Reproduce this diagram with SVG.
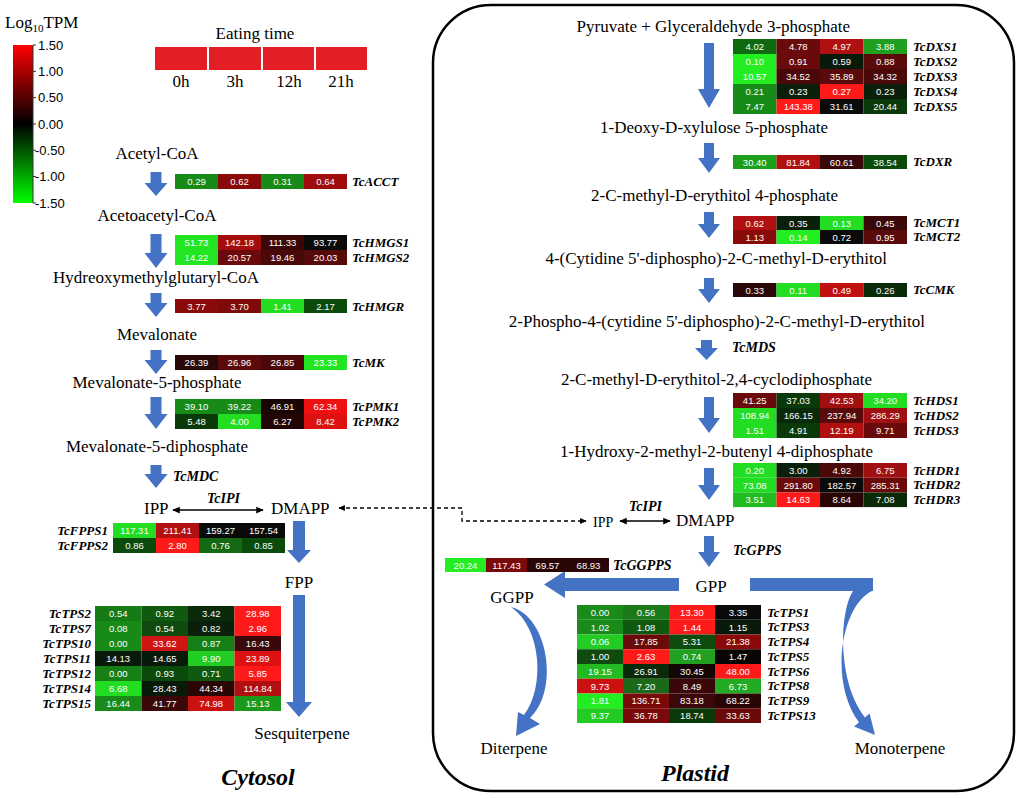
<svg xmlns="http://www.w3.org/2000/svg" width="1021" height="799" viewBox="0 0 1021 799">
<defs>
<linearGradient id="cb" x1="0" y1="0" x2="0" y2="1">
<stop offset="0" stop-color="#ff0000"/><stop offset="0.5" stop-color="#000000"/><stop offset="1" stop-color="#00ff00"/>
</linearGradient>
<marker id="ah" viewBox="0 0 10 10" refX="9" refY="5" markerWidth="5" markerHeight="5" orient="auto-start-reverse"><path d="M0,0.5 L10,5 L0,9.5 z" fill="#000"/></marker>
</defs>
<style>
.m{font-family:"Liberation Serif","Times New Roman",serif;font-size:17px;fill:#000}
.ml{font-family:"Liberation Serif","Times New Roman",serif;font-size:17px;fill:#000;text-anchor:middle}
.mr{font-family:"Liberation Serif","Times New Roman",serif;font-size:17px;fill:#000;text-anchor:end}
.g{font-family:"Liberation Serif","Times New Roman",serif;font-size:13px;font-weight:bold;font-style:italic;fill:#000}
.gr{font-family:"Liberation Serif","Times New Roman",serif;font-size:13px;font-weight:bold;font-style:italic;fill:#000;text-anchor:end}
.e{font-family:"Liberation Serif","Times New Roman",serif;font-size:14px;font-weight:bold;font-style:italic;fill:#000}
.big{font-family:"Liberation Serif","Times New Roman",serif;font-size:24px;font-weight:bold;font-style:italic;fill:#000;text-anchor:middle}
.c{font-family:"Liberation Sans",Arial,sans-serif;font-size:9.5px;fill:#fff;text-anchor:middle}
.t{font-family:"Liberation Sans",Arial,sans-serif;font-size:13px;fill:#000}
.ba{fill:#4472c4}
.ln{stroke:#000;stroke-width:1.5;fill:none}
</style>
<rect width="1021" height="799" fill="#fff"/>

<g id="legend">
<text class="m" x="5" y="28">Log<tspan font-size="11" dy="4">10</tspan><tspan dy="-4">TPM</tspan></text>
<rect x="13" y="45" width="20" height="158" fill="url(#cb)"/>
<path d="M33,45V203M33,45h3M33,71.3h3M33,97.6h3M33,124h3M33,150.2h3M33,176.5h3M33,203h3" stroke="#333" stroke-width="1" fill="none"/>
<text class="t" x="38" y="50">1.50</text>
<text class="t" x="38" y="76">1.00</text>
<text class="t" x="38" y="102">0.50</text>
<text class="t" x="38" y="129">0.00</text>
<text class="t" x="35" y="155">-0.50</text>
<text class="t" x="35" y="181">-1.00</text>
<text class="t" x="35" y="208">-1.50</text>
</g>

<g id="eating-time">
<text class="ml" x="255" y="39">Eating time</text>
<rect x="155" y="47" width="52" height="23" fill="#e31e24"/>
<rect x="209" y="47" width="52" height="23" fill="#e31e24"/>
<rect x="263" y="47" width="51" height="23" fill="#e31e24"/>
<rect x="316" y="47" width="51" height="23" fill="#e31e24"/>
<text class="ml" x="181" y="87">0h</text>
<text class="ml" x="235" y="87">3h</text>
<text class="ml" x="289" y="87">12h</text>
<text class="ml" x="341" y="87">21h</text>
</g>

<g id="plastid-box"><rect x="433" y="5" width="581" height="786" rx="58" fill="none" stroke="#000" stroke-width="2.5"/></g>

<g id="connectors">
<path class="ba" d="M150.5,172H161.5V183H167.5L156,196L144.5,183H150.5Z"/>
<path class="ba" d="M150.5,234H161.5V253H167.5L156,268L144.5,253H150.5Z"/>
<path class="ba" d="M150.5,293H161.5V303H167.5L156,317L144.5,303H150.5Z"/>
<path class="ba" d="M150.5,350H161.5V360H167.5L156,374L144.5,360H150.5Z"/>
<path class="ba" d="M150.5,397H161.5V414H167.5L156,429L144.5,414H150.5Z"/>
<path class="ba" d="M150.5,465H161.5V474H167.5L156,488L144.5,474H150.5Z"/>
<path class="ba" d="M293,521H305V550H311L299,563L287,550H293Z"/>
<path class="ba" d="M293,595H305V702H312L299,717L286,702H293Z"/>
<path class="ba" d="M704,43H714V89H720L709,108L698,89H704Z"/>
<path class="ba" d="M704,143H714V158H720L709,173L698,158H704Z"/>
<path class="ba" d="M704,212H714V224H720L709,238L698,224H704Z"/>
<path class="ba" d="M704,278H714V289H720L709,303L698,289H704Z"/>
<path class="ba" d="M701,340H712V348H718L706.5,360L695,348H701Z"/>
<path class="ba" d="M704,397H714V418H720L709,433L698,418H704Z"/>
<path class="ba" d="M704,468H714V485H720L709,500L698,485H704Z"/>
<path class="ba" d="M704,536H714V552H720L709,567L698,552H704Z"/>
<path class="ba" d="M679,578V591H565V598L544,584.5L565,571V578Z"/>
<path class="ba" d="M750,578H873V591H872C842,605 828,680 859,722.6L854,726.5L875,735L869.6,713.5L865,717.4C836,680 840,610 853,591H750Z"/>
<path class="ba" d="M511,607C548,616 560,690 530,718L540,724L516,736L518,712L524,715C545,688 542,628 511,607Z"/>
<line class="ln" x1="173" y1="510" x2="263" y2="510" marker-start="url(#ah)" marker-end="url(#ah)"/>
<line class="ln" x1="620" y1="521" x2="670" y2="521" marker-start="url(#ah)" marker-end="url(#ah)"/>
<path d="M339,508H462V521H586" fill="none" stroke="#000" stroke-width="1.3" stroke-dasharray="4 3" marker-start="url(#ah)" marker-end="url(#ah)"/>
</g>

<g id="metabolites-cytosol">
<text class="ml" x="157" y="159">Acetyl-CoA</text>
<text class="ml" x="157" y="221">Acetoacetyl-CoA</text>
<text class="ml" x="156" y="283">Hydreoxymethylglutaryl-CoA</text>
<text class="ml" x="157" y="340">Mevalonate</text>
<text class="ml" x="157" y="388">Mevalonate-5-phosphate</text>
<text class="ml" x="157" y="452">Mevalonate-5-diphosphate</text>
<text class="e" x="173" y="481">TcMDC</text>
<text class="m" x="144" y="514">IPP</text>
<text class="e" x="207" y="503">TcIPI</text>
<text class="m" x="271" y="514">DMAPP</text>
<text class="ml" x="299" y="588">FPP</text>
<text class="ml" x="302" y="739">Sesquiterpene</text>
<text class="big" x="258" y="785">Cytosol</text>
</g>

<g id="metabolites-plastid">
<text class="mr" x="850" y="32">Pyruvate + Glyceraldehyde 3-phosphate</text>
<text class="mr" x="828" y="133">1-Deoxy-D-xylulose 5-phosphate</text>
<text class="mr" x="838" y="201">2-C-methyl-D-erythitol 4-phosphate</text>
<text class="mr" x="887" y="264">4-(Cytidine 5'-diphospho)-2-C-methyl-D-erythitol</text>
<text class="mr" x="925" y="327">2-Phospho-4-(cytidine 5'-diphospho)-2-C-methyl-D-erythitol</text>
<text class="e" x="732" y="352">TcMDS</text>
<text class="mr" x="872" y="385">2-C-methyl-D-erythitol-2,4-cyclodiphosphate</text>
<text class="mr" x="873" y="457">1-Hydroxy-2-methyl-2-butenyl 4-diphosphate</text>
<text x="593" y="527" font-family="Liberation Serif,serif" font-size="14">IPP</text>
<text class="e" x="629" y="511">TcIPI</text>
<text class="m" x="676" y="526">DMAPP</text>
<text class="e" x="733" y="555">TcGPPS</text>
<text class="ml" x="711" y="592" font-size="18">GPP</text>
<text class="ml" x="512" y="603">GGPP</text>
<text class="ml" x="514" y="754">Diterpene</text>
<text class="ml" x="900" y="754">Monoterpene</text>
<text class="big" x="695" y="781">Plastid</text>
</g>

<g id="TcACCT" transform="translate(175,174)">
<rect x="0" width="43" height="15" fill="#178a17"/><rect x="43" width="43" height="15" fill="#8a0a0a"/><rect x="86" width="43" height="15" fill="#178a17"/><rect x="129" width="43" height="15" fill="#a00c0c"/>
<text class="c" x="21.5" y="11">0.29</text><text class="c" x="64.5" y="11">0.62</text><text class="c" x="107.5" y="11">0.31</text><text class="c" x="150.5" y="11">0.64</text>
<text class="g" x="177" y="12">TcACCT</text>
</g>

<g id="TcHMGS" transform="translate(175,235)">
<rect x="0" width="43" height="15" fill="#22e622"/><rect x="43" width="43" height="15" fill="#a50c0c"/><rect x="86" width="43" height="15" fill="#3a0606"/><rect x="129" width="43" height="15" fill="#0a0a0a"/>
<rect x="0" y="15" width="43" height="15" fill="#22e622"/><rect x="43" y="15" width="43" height="15" fill="#6a0a0a"/><rect x="86" y="15" width="43" height="15" fill="#4a0808"/><rect x="129" y="15" width="43" height="15" fill="#580a0a"/>
<text class="c" x="21.5" y="11">51.73</text><text class="c" x="64.5" y="11">142.18</text><text class="c" x="107.5" y="11">111.33</text><text class="c" x="150.5" y="11">93.77</text>
<text class="c" x="21.5" y="26">14.22</text><text class="c" x="64.5" y="26">20.57</text><text class="c" x="107.5" y="26">19.46</text><text class="c" x="150.5" y="26">20.03</text>
<text class="g" x="177" y="12">TcHMGS1</text><text class="g" x="177" y="27">TcHMGS2</text>
</g>

<g id="TcHMGR" transform="translate(175,299)">
<rect x="0" width="43" height="14" fill="#8a0a0a"/><rect x="43" width="43" height="14" fill="#7f0a0a"/><rect x="86" width="43" height="14" fill="#22dd22"/><rect x="129" width="43" height="14" fill="#0a4a0a"/>
<text class="c" x="21.5" y="10.5">3.77</text><text class="c" x="64.5" y="10.5">3.70</text><text class="c" x="107.5" y="10.5">1.41</text><text class="c" x="150.5" y="10.5">2.17</text>
<text class="g" x="177" y="12">TcHMGR</text>
</g>

<g id="TcMK" transform="translate(175,355)">
<rect x="0" width="43" height="15" fill="#2a0808"/><rect x="43" width="43" height="15" fill="#5a0a0a"/><rect x="86" width="43" height="15" fill="#4a0808"/><rect x="129" width="43" height="15" fill="#22e622"/>
<text class="c" x="21.5" y="11">26.39</text><text class="c" x="64.5" y="11">26.96</text><text class="c" x="107.5" y="11">26.85</text><text class="c" x="150.5" y="11">23.33</text>
<text class="g" x="177" y="12">TcMK</text>
</g>

<g id="TcPMK" transform="translate(175,399)">
<rect x="0" width="43" height="15" fill="#178a17"/><rect x="43" width="43" height="15" fill="#178a17"/><rect x="86" width="43" height="15" fill="#1a0505"/><rect x="129" width="43" height="15" fill="#ee1111"/>
<rect x="0" y="15" width="43" height="15" fill="#0a3a0a"/><rect x="43" y="15" width="43" height="15" fill="#22dd22"/><rect x="86" y="15" width="43" height="15" fill="#220505"/><rect x="129" y="15" width="43" height="15" fill="#dd1111"/>
<text class="c" x="21.5" y="11">39.10</text><text class="c" x="64.5" y="11">39.22</text><text class="c" x="107.5" y="11">46.91</text><text class="c" x="150.5" y="11">62.34</text>
<text class="c" x="21.5" y="26">5.48</text><text class="c" x="64.5" y="26">4.00</text><text class="c" x="107.5" y="26">6.27</text><text class="c" x="150.5" y="26">8.42</text>
<text class="g" x="177" y="12">TcPMK1</text><text class="g" x="177" y="27">TcPMK2</text>
</g>

<g id="TcFPPS" transform="translate(113,523)">
<rect x="0" width="43" height="15" fill="#22dd22"/><rect x="43" width="43" height="15" fill="#b01010"/><rect x="86" width="43" height="15" fill="#0a0a0a"/><rect x="129" width="43" height="15" fill="#0a0a0a"/>
<rect x="0" y="15" width="43" height="15" fill="#0a4a0a"/><rect x="43" y="15" width="43" height="15" fill="#ff1a1a"/><rect x="86" y="15" width="43" height="15" fill="#146a14"/><rect x="129" y="15" width="43" height="15" fill="#0a4a0a"/>
<text class="c" x="21.5" y="11">117.31</text><text class="c" x="64.5" y="11">211.41</text><text class="c" x="107.5" y="11">159.27</text><text class="c" x="150.5" y="11">157.54</text>
<text class="c" x="21.5" y="26">0.86</text><text class="c" x="64.5" y="26">2.80</text><text class="c" x="107.5" y="26">0.76</text><text class="c" x="150.5" y="26">0.85</text>
<text class="gr" x="-5" y="12">TcFPPS1</text><text class="gr" x="-5" y="27">TcFPPS2</text>
</g>

<g id="TcTPS-cytosol" transform="translate(95,606)">
<rect x="0" y="0" width="46.5" height="15" fill="#167a16"/><rect x="46.5" y="0" width="46.5" height="15" fill="#0f5a0f"/><rect x="93" y="0" width="46.5" height="15" fill="#0a2a0a"/><rect x="139.5" y="0" width="46.5" height="15" fill="#ff1a1a"/>
<rect x="0" y="15" width="46.5" height="15" fill="#178a17"/><rect x="46.5" y="15" width="46.5" height="15" fill="#0f4a0f"/><rect x="93" y="15" width="46.5" height="15" fill="#0a200a"/><rect x="139.5" y="15" width="46.5" height="15" fill="#ff1a1a"/>
<rect x="0" y="30" width="46.5" height="15" fill="#178a17"/><rect x="46.5" y="30" width="46.5" height="15" fill="#d01515"/><rect x="93" y="30" width="46.5" height="15" fill="#168016"/><rect x="139.5" y="30" width="46.5" height="15" fill="#3a0808"/>
<rect x="0" y="45" width="46.5" height="15" fill="#0a1a0a"/><rect x="46.5" y="45" width="46.5" height="15" fill="#0a1a0a"/><rect x="93" y="45" width="46.5" height="15" fill="#22cc22"/><rect x="139.5" y="45" width="46.5" height="15" fill="#dd1111"/>
<rect x="0" y="60" width="46.5" height="15" fill="#168016"/><rect x="46.5" y="60" width="46.5" height="15" fill="#0a4a0a"/><rect x="93" y="60" width="46.5" height="15" fill="#0f5a0f"/><rect x="139.5" y="60" width="46.5" height="15" fill="#ff1a1a"/>
<rect x="0" y="75" width="46.5" height="15" fill="#22dd22"/><rect x="46.5" y="75" width="46.5" height="15" fill="#0a1a0a"/><rect x="93" y="75" width="46.5" height="15" fill="#2a0505"/><rect x="139.5" y="75" width="46.5" height="15" fill="#b01010"/>
<rect x="0" y="90" width="46.5" height="15" fill="#1a8a1a"/><rect x="46.5" y="90" width="46.5" height="15" fill="#3a0808"/><rect x="93" y="90" width="46.5" height="15" fill="#cc1111"/><rect x="139.5" y="90" width="46.5" height="15" fill="#1a9a1a"/>
<text class="c" x="23.25" y="11">0.54</text><text class="c" x="69.75" y="11">0.92</text><text class="c" x="116.25" y="11">3.42</text><text class="c" x="162.75" y="11">28.98</text>
<text class="c" x="23.25" y="26">0.08</text><text class="c" x="69.75" y="26">0.54</text><text class="c" x="116.25" y="26">0.82</text><text class="c" x="162.75" y="26">2.96</text>
<text class="c" x="23.25" y="41">0.00</text><text class="c" x="69.75" y="41">33.62</text><text class="c" x="116.25" y="41">0.87</text><text class="c" x="162.75" y="41">16.43</text>
<text class="c" x="23.25" y="56">14.13</text><text class="c" x="69.75" y="56">14.65</text><text class="c" x="116.25" y="56">9.90</text><text class="c" x="162.75" y="56">23.89</text>
<text class="c" x="23.25" y="71">0.00</text><text class="c" x="69.75" y="71">0.93</text><text class="c" x="116.25" y="71">0.71</text><text class="c" x="162.75" y="71">5.85</text>
<text class="c" x="23.25" y="86">6.68</text><text class="c" x="69.75" y="86">28.43</text><text class="c" x="116.25" y="86">44.34</text><text class="c" x="162.75" y="86">114.84</text>
<text class="c" x="23.25" y="101">16.44</text><text class="c" x="69.75" y="101">41.77</text><text class="c" x="116.25" y="101">74.98</text><text class="c" x="162.75" y="101">15.13</text>
<text class="gr" x="-4" y="12">TcTPS2</text><text class="gr" x="-4" y="27">TcTPS7</text><text class="gr" x="-4" y="42">TcTPS10</text><text class="gr" x="-4" y="57">TcTPS11</text><text class="gr" x="-4" y="72">TcTPS12</text><text class="gr" x="-4" y="87">TcTPS14</text><text class="gr" x="-4" y="102">TcTPS15</text>
</g>

<g id="TcDXS" transform="translate(733,39)">
<rect x="0" y="0" width="43.5" height="15" fill="#0f6a0f"/><rect x="43.5" y="0" width="43.5" height="15" fill="#6a0a0a"/><rect x="87" y="0" width="43.5" height="15" fill="#b01010"/><rect x="130.5" y="0" width="43.5" height="15" fill="#1fa01f"/>
<rect x="0" y="15" width="43.5" height="15" fill="#22ee22"/><rect x="43.5" y="15" width="43.5" height="15" fill="#6a0a0a"/><rect x="87" y="15" width="43.5" height="15" fill="#0a1a0a"/><rect x="130.5" y="15" width="43.5" height="15" fill="#5a0a0a"/>
<rect x="0" y="30" width="43.5" height="15" fill="#22ee22"/><rect x="43.5" y="30" width="43.5" height="15" fill="#4a0808"/><rect x="87" y="30" width="43.5" height="15" fill="#5a0a0a"/><rect x="130.5" y="30" width="43.5" height="15" fill="#4a0808"/>
<rect x="0" y="45" width="43.5" height="15" fill="#178a17"/><rect x="43.5" y="45" width="43.5" height="15" fill="#0a200a"/><rect x="87" y="45" width="43.5" height="15" fill="#ff1a1a"/><rect x="130.5" y="45" width="43.5" height="15" fill="#0a200a"/>
<rect x="0" y="60" width="43.5" height="15" fill="#178a17"/><rect x="43.5" y="60" width="43.5" height="15" fill="#ff1a1a"/><rect x="87" y="60" width="43.5" height="15" fill="#0a0a0a"/><rect x="130.5" y="60" width="43.5" height="15" fill="#0a3a0a"/>
<text class="c" x="21.75" y="11">4.02</text><text class="c" x="65.25" y="11">4.78</text><text class="c" x="108.75" y="11">4.97</text><text class="c" x="152.25" y="11">3.88</text>
<text class="c" x="21.75" y="26">0.10</text><text class="c" x="65.25" y="26">0.91</text><text class="c" x="108.75" y="26">0.59</text><text class="c" x="152.25" y="26">0.88</text>
<text class="c" x="21.75" y="41">10.57</text><text class="c" x="65.25" y="41">34.52</text><text class="c" x="108.75" y="41">35.89</text><text class="c" x="152.25" y="41">34.32</text>
<text class="c" x="21.75" y="56">0.21</text><text class="c" x="65.25" y="56">0.23</text><text class="c" x="108.75" y="56">0.27</text><text class="c" x="152.25" y="56">0.23</text>
<text class="c" x="21.75" y="71">7.47</text><text class="c" x="65.25" y="71">143.38</text><text class="c" x="108.75" y="71">31.61</text><text class="c" x="152.25" y="71">20.44</text>
<text class="g" x="180" y="12">TcDXS1</text><text class="g" x="180" y="27">TcDXS2</text><text class="g" x="180" y="42">TcDXS3</text><text class="g" x="180" y="57">TcDXS4</text><text class="g" x="180" y="72">TcDXS5</text>
</g>

<g id="TcDXR" transform="translate(733,155)">
<rect x="0" width="43.5" height="14" fill="#1aa01a"/><rect x="43.5" width="43.5" height="14" fill="#b01010"/><rect x="87" width="43.5" height="14" fill="#3a0808"/><rect x="130.5" width="43.5" height="14" fill="#0a4a0a"/>
<text class="c" x="21.75" y="10.5">30.40</text><text class="c" x="65.25" y="10.5">81.84</text><text class="c" x="108.75" y="10.5">60.61</text><text class="c" x="152.25" y="10.5">38.54</text>
<text class="g" x="180" y="11">TcDXR</text>
</g>

<g id="TcMCT" transform="translate(733,216)">
<rect x="0" y="0" width="43.5" height="14" fill="#b01010"/><rect x="43.5" y="0" width="43.5" height="14" fill="#0a200a"/><rect x="87" y="0" width="43.5" height="14" fill="#22dd22"/><rect x="130.5" y="0" width="43.5" height="14" fill="#3a0808"/>
<rect x="0" y="14" width="43.5" height="14" fill="#8a0a0a"/><rect x="43.5" y="14" width="43.5" height="14" fill="#22ee22"/><rect x="87" y="14" width="43.5" height="14" fill="#0a0a0a"/><rect x="130.5" y="14" width="43.5" height="14" fill="#5a0a0a"/>
<text class="c" x="21.75" y="10.5">0.62</text><text class="c" x="65.25" y="10.5">0.35</text><text class="c" x="108.75" y="10.5">0.13</text><text class="c" x="152.25" y="10.5">0.45</text>
<text class="c" x="21.75" y="24.5">1.13</text><text class="c" x="65.25" y="24.5">0.14</text><text class="c" x="108.75" y="24.5">0.72</text><text class="c" x="152.25" y="24.5">0.95</text>
<text class="g" x="180" y="11">TcMCT1</text><text class="g" x="180" y="25">TcMCT2</text>
</g>

<g id="TcCMK" transform="translate(733,283)">
<rect x="0" width="43.5" height="14" fill="#2a0808"/><rect x="43.5" width="43.5" height="14" fill="#22dd22"/><rect x="87" width="43.5" height="14" fill="#c01010"/><rect x="130.5" width="43.5" height="14" fill="#0a2a0a"/>
<text class="c" x="21.75" y="10.5">0.33</text><text class="c" x="65.25" y="10.5">0.11</text><text class="c" x="108.75" y="10.5">0.49</text><text class="c" x="152.25" y="10.5">0.26</text>
<text class="g" x="180" y="11">TcCMK</text>
</g>

<g id="TcHDS" transform="translate(733,393)">
<rect x="0" y="0" width="43.5" height="15" fill="#6a0a0a"/><rect x="43.5" y="0" width="43.5" height="15" fill="#0a3a0a"/><rect x="87" y="0" width="43.5" height="15" fill="#a01010"/><rect x="130.5" y="0" width="43.5" height="15" fill="#22dd22"/>
<rect x="0" y="15" width="43.5" height="15" fill="#22dd22"/><rect x="43.5" y="15" width="43.5" height="15" fill="#0a2a0a"/><rect x="87" y="15" width="43.5" height="15" fill="#5a0a0a"/><rect x="130.5" y="15" width="43.5" height="15" fill="#a01010"/>
<rect x="0" y="30" width="43.5" height="15" fill="#22dd22"/><rect x="43.5" y="30" width="43.5" height="15" fill="#0a3a0a"/><rect x="87" y="30" width="43.5" height="15" fill="#b01010"/><rect x="130.5" y="30" width="43.5" height="15" fill="#6a0a0a"/>
<text class="c" x="21.75" y="11">41.25</text><text class="c" x="65.25" y="11">37.03</text><text class="c" x="108.75" y="11">42.53</text><text class="c" x="152.25" y="11">34.20</text>
<text class="c" x="21.75" y="26">108.94</text><text class="c" x="65.25" y="26">166.15</text><text class="c" x="108.75" y="26">237.94</text><text class="c" x="152.25" y="26">286.29</text>
<text class="c" x="21.75" y="41">1.51</text><text class="c" x="65.25" y="41">4.91</text><text class="c" x="108.75" y="41">12.19</text><text class="c" x="152.25" y="41">9.71</text>
<text class="g" x="180" y="12">TcHDS1</text><text class="g" x="180" y="27">TcHDS2</text><text class="g" x="180" y="42">TcHDS3</text>
</g>

<g id="TcHDR" transform="translate(733,463)">
<rect x="0" y="0" width="43.5" height="14.7" fill="#22dd22"/><rect x="43.5" y="0" width="43.5" height="14.7" fill="#0a200a"/><rect x="87" y="0" width="43.5" height="14.7" fill="#4a0808"/><rect x="130.5" y="0" width="43.5" height="14.7" fill="#a01010"/>
<rect x="0" y="14.7" width="43.5" height="14.7" fill="#22dd22"/><rect x="43.5" y="14.7" width="43.5" height="14.7" fill="#6a0a0a"/><rect x="87" y="14.7" width="43.5" height="14.7" fill="#0a0a0a"/><rect x="130.5" y="14.7" width="43.5" height="14.7" fill="#6a0a0a"/>
<rect x="0" y="29.4" width="43.5" height="14.7" fill="#22bb22"/><rect x="43.5" y="29.4" width="43.5" height="14.7" fill="#ff1a1a"/><rect x="87" y="29.4" width="43.5" height="14.7" fill="#2a0505"/><rect x="130.5" y="29.4" width="43.5" height="14.7" fill="#0a2a0a"/>
<text class="c" x="21.75" y="10.8">0.20</text><text class="c" x="65.25" y="10.8">3.00</text><text class="c" x="108.75" y="10.8">4.92</text><text class="c" x="152.25" y="10.8">6.75</text>
<text class="c" x="21.75" y="25.5">73.08</text><text class="c" x="65.25" y="25.5">291.80</text><text class="c" x="108.75" y="25.5">182.57</text><text class="c" x="152.25" y="25.5">285.31</text>
<text class="c" x="21.75" y="40.2">3.51</text><text class="c" x="65.25" y="40.2">14.63</text><text class="c" x="108.75" y="40.2">8.64</text><text class="c" x="152.25" y="40.2">7.08</text>
<text class="g" x="180" y="11.5">TcHDR1</text><text class="g" x="180" y="26">TcHDR2</text><text class="g" x="180" y="41">TcHDR3</text>
</g>

<g id="TcGGPPS" transform="translate(445,558)">
<rect x="0" width="41" height="14" fill="#22ee22"/><rect x="41" width="41" height="14" fill="#7a0a0a"/><rect x="82" width="41" height="14" fill="#2a0505"/><rect x="123" width="41" height="14" fill="#2a0505"/>
<text class="c" x="20.5" y="10.5">20.24</text><text class="c" x="61.5" y="10.5">117.43</text><text class="c" x="102.5" y="10.5">69.57</text><text class="c" x="143.5" y="10.5">68.93</text>
<text class="e" x="168" y="12">TcGGPPS</text>
</g>

<g id="TcTPS-plastid" transform="translate(577,605)">
<rect x="0" y="0" width="46" height="14.75" fill="#1a8a1a"/><rect x="46" y="0" width="46" height="14.75" fill="#1a7a1a"/><rect x="92" y="0" width="46" height="14.75" fill="#ff1a1a"/><rect x="138" y="0" width="46" height="14.75" fill="#0a0a0a"/>
<rect x="0" y="14.75" width="46" height="14.75" fill="#1a8a1a"/><rect x="46" y="14.75" width="46" height="14.75" fill="#0f5a0f"/><rect x="92" y="14.75" width="46" height="14.75" fill="#ff1a1a"/><rect x="138" y="14.75" width="46" height="14.75" fill="#0a1a0a"/>
<rect x="0" y="29.5" width="46" height="14.75" fill="#22cc22"/><rect x="46" y="29.5" width="46" height="14.75" fill="#6a0a0a"/><rect x="92" y="29.5" width="46" height="14.75" fill="#0f4a0f"/><rect x="138" y="29.5" width="46" height="14.75" fill="#8a0a0a"/>
<rect x="0" y="44.25" width="46" height="14.75" fill="#0f4a0f"/><rect x="46" y="44.25" width="46" height="14.75" fill="#ff1a1a"/><rect x="92" y="44.25" width="46" height="14.75" fill="#22a022"/><rect x="138" y="44.25" width="46" height="14.75" fill="#0a0505"/>
<rect x="0" y="59" width="46" height="14.75" fill="#22bb22"/><rect x="46" y="59" width="46" height="14.75" fill="#0a2a0a"/><rect x="92" y="59" width="46" height="14.75" fill="#150505"/><rect x="138" y="59" width="46" height="14.75" fill="#ff1a1a"/>
<rect x="0" y="73.75" width="46" height="14.75" fill="#cc1111"/><rect x="46" y="73.75" width="46" height="14.75" fill="#1a6a1a"/><rect x="92" y="73.75" width="46" height="14.75" fill="#3a0808"/><rect x="138" y="73.75" width="46" height="14.75" fill="#22aa22"/>
<rect x="0" y="88.5" width="46" height="14.75" fill="#22ee22"/><rect x="46" y="88.5" width="46" height="14.75" fill="#7a0a0a"/><rect x="92" y="88.5" width="46" height="14.75" fill="#3a0808"/><rect x="138" y="88.5" width="46" height="14.75" fill="#2a0505"/>
<rect x="0" y="103.25" width="46" height="14.75" fill="#22cc22"/><rect x="46" y="103.25" width="46" height="14.75" fill="#7a0a0a"/><rect x="92" y="103.25" width="46" height="14.75" fill="#0a3a0a"/><rect x="138" y="103.25" width="46" height="14.75" fill="#6a0a0a"/>
<text class="c" x="23" y="10.8">0.00</text><text class="c" x="69" y="10.8">0.56</text><text class="c" x="115" y="10.8">13.30</text><text class="c" x="161" y="10.8">3.35</text>
<text class="c" x="23" y="25.5">1.02</text><text class="c" x="69" y="25.5">1.08</text><text class="c" x="115" y="25.5">1.44</text><text class="c" x="161" y="25.5">1.15</text>
<text class="c" x="23" y="40.3">0.06</text><text class="c" x="69" y="40.3">17.85</text><text class="c" x="115" y="40.3">5.31</text><text class="c" x="161" y="40.3">21.38</text>
<text class="c" x="23" y="55">1.00</text><text class="c" x="69" y="55">2.63</text><text class="c" x="115" y="55">0.74</text><text class="c" x="161" y="55">1.47</text>
<text class="c" x="23" y="69.8">19.15</text><text class="c" x="69" y="69.8">26.91</text><text class="c" x="115" y="69.8">30.45</text><text class="c" x="161" y="69.8">48.00</text>
<text class="c" x="23" y="84.5">9.73</text><text class="c" x="69" y="84.5">7.20</text><text class="c" x="115" y="84.5">8.49</text><text class="c" x="161" y="84.5">6.73</text>
<text class="c" x="23" y="99.3">1.81</text><text class="c" x="69" y="99.3">136.71</text><text class="c" x="115" y="99.3">83.18</text><text class="c" x="161" y="99.3">68.22</text>
<text class="c" x="23" y="114">9.37</text><text class="c" x="69" y="114">36.78</text><text class="c" x="115" y="114">18.74</text><text class="c" x="161" y="114">33.63</text>
<text class="g" x="190" y="11.5">TcTPS1</text><text class="g" x="190" y="26">TcTPS3</text><text class="g" x="190" y="41">TcTPS4</text><text class="g" x="190" y="55.5">TcTPS5</text><text class="g" x="190" y="70.5">TcTPS6</text><text class="g" x="190" y="85">TcTPS8</text><text class="g" x="190" y="100">TcTPS9</text><text class="g" x="190" y="114.5">TcTPS13</text>
</g>
</svg>
